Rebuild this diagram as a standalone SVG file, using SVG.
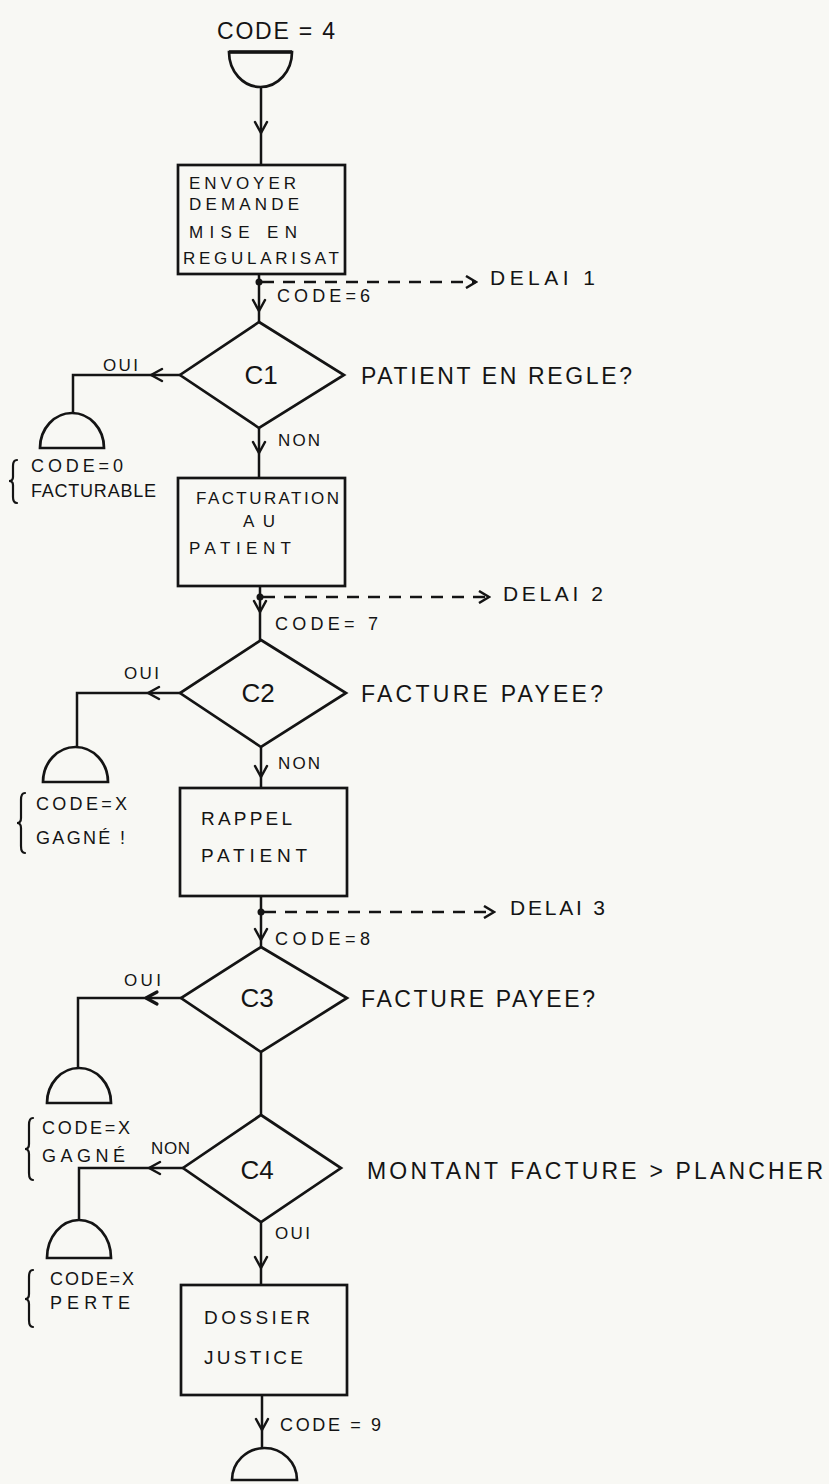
<svg xmlns="http://www.w3.org/2000/svg" xmlns:xlink="http://www.w3.org/1999/xlink" width="829" height="1484" viewBox="0 0 829 1484">
  <style>
    .shape { fill: none; stroke: #141414; stroke-width: 2.7; stroke-linejoin: miter; }
    .line { fill: none; stroke: #141414; stroke-width: 2.5; }
    .dash { fill: none; stroke: #141414; stroke-width: 2.5; stroke-dasharray: 12 9; }
    .ah { fill: none; stroke: #141414; stroke-width: 2.5; stroke-linecap: round; stroke-linejoin: round; }
    .brace { fill: none; stroke: #141414; stroke-width: 2.2; stroke-linecap: round; }
    text { font-family: "Liberation Sans", "DejaVu Sans", sans-serif; fill: #141414; }
    .tb { font-size: 17px; }
    .tm { font-size: 19px; }
    .ts { font-size: 18px; }
    .tl { font-size: 21px; }
    .tq { font-size: 23px; }
    .tc { font-size: 26px; }
  </style>
  <defs>
    <path id="av" d="M-6,-11 L0,0 L6,-11"/>
    <marker id="dhead" viewBox="0 0 14 14" refX="12" refY="7" markerWidth="14" markerHeight="14" markerUnits="userSpaceOnUse" orient="auto">
      <path d="M2,1 L12,7 L2,13" fill="none" stroke="#141414" stroke-width="2.5"/>
    </marker>
  </defs>
  <rect x="0" y="0" width="829" height="1484" fill="#f8f8f4"/>

  <g id="connectors">
    <path class="line" d="M261,87 V165"/>
    <path class="line" d="M259,274 V322"/>
    <path class="line" d="M180,375 H73 V413"/>
    <path class="line" d="M259,428 V478"/>
    <path class="line" d="M260,586 V640"/>
    <path class="line" d="M180,693 H77 V747"/>
    <path class="line" d="M261,747 V788"/>
    <path class="line" d="M261,896 V947"/>
    <path class="line" d="M181,998 H78 V1068"/>
    <path class="line" d="M261,1052 V1115"/>
    <path class="line" d="M183,1168 H79 V1220"/>
    <path class="line" d="M261,1222 V1285"/>
    <path class="line" d="M262,1395 V1448"/>
    <path class="dash" d="M262,282 H476" marker-end="url(#dhead)"/>
    <path class="dash" d="M263,597 H489" marker-end="url(#dhead)"/>
    <path class="dash" d="M264,912 H494" marker-end="url(#dhead)"/>
    <circle cx="259" cy="282" r="3.5" fill="#141414"/>
    <circle cx="260" cy="597" r="3.5" fill="#141414"/>
    <circle cx="261" cy="912" r="3.5" fill="#141414"/>
    <use href="#av" class="ah" transform="translate(261,133)"/>
    <use href="#av" class="ah" transform="translate(259,311)"/>
    <use href="#av" class="ah" transform="translate(259,453)"/>
    <use href="#av" class="ah" transform="translate(260,612)"/>
    <use href="#av" class="ah" transform="translate(261,777)"/>
    <use href="#av" class="ah" transform="translate(261,940)"/>
    <use href="#av" class="ah" transform="translate(261,1268)"/>
    <use href="#av" class="ah" transform="translate(262,1430)"/>
    <use href="#av" class="ah" transform="translate(151,375) rotate(90)"/>
    <use href="#av" class="ah" transform="translate(148,693) rotate(90)"/>
    <use href="#av" class="ah" transform="translate(146,998) rotate(90)" style="stroke-width:3.2"/>
    <use href="#av" class="ah" transform="translate(149,1168) rotate(90)"/>
    <text class="ts" x="277" y="302" textLength="93">CODE=6</text>
    <text class="tl" x="490" y="285" textLength="105">DELAI 1</text>
    <text class="tb" x="103" y="371" textLength="35">OUI</text>
    <text class="tb" x="278" y="446" textLength="42">NON</text>
    <text class="tl" x="503" y="601" textLength="100">DELAI 2</text>
    <text class="ts" x="275" y="630" textLength="103">CODE= 7</text>
    <text class="tb" x="124" y="679" textLength="35">OUI</text>
    <text class="tb" x="278" y="769" textLength="42">NON</text>
    <text class="tl" x="510" y="915" textLength="95">DELAI 3</text>
    <text class="ts" x="275" y="945" textLength="95">CODE=8</text>
    <text class="tb" x="124" y="986" textLength="37">OUI</text>
    <text class="tb" x="151" y="1154" textLength="39">NON</text>
    <text class="tb" x="275" y="1239" textLength="35">OUI</text>
    <text class="ts" x="280" y="1431" textLength="101">CODE = 9</text>
  </g>

  <g id="start">
    <path class="shape" d="M229,52 H292 A31.5,35 0 0 1 229,52 Z"/>
    <path class="line" d="M229,52 H292" style="stroke-width:3.5"/>
    <text class="tq" x="217" y="39" textLength="118">CODE = 4</text>
  </g>

  <g id="box1">
    <rect class="shape" x="178" y="165" width="167" height="109"/>
    <text class="tb" x="189" y="189" textLength="107">ENVOYER</text>
    <text class="tb" x="189" y="210" textLength="110">DEMANDE</text>
    <text class="tb" x="189" y="238" textLength="108">MISE EN</text>
    <text class="tb" x="183" y="264" textLength="156">REGULARISAT</text>
  </g>

  <g id="c1">
    <path class="shape" d="M259,322 L344,375 L259,428 L180,375 Z"/>
    <text class="tc" x="261" y="384" text-anchor="middle">C1</text>
    <text class="tq" x="361" y="384" textLength="271">PATIENT EN REGLE?</text>
  </g>

  <g id="end-c1">
    <path class="shape" d="M40,448 A32,35 0 0 1 104,448 Z"/>
    <path class="brace" d="M17,460 Q13,460 13,466 L13,477 Q13,481 9,481 Q13,481 13,485 L13,497 Q13,503 17,503"/>
    <text class="ts" x="31" y="472" textLength="92">CODE=0</text>
    <text class="ts" x="31" y="497" textLength="125">FACTURABLE</text>
  </g>

  <g id="box2">
    <rect class="shape" x="178" y="478" width="167" height="108"/>
    <text class="tb" x="196" y="504" textLength="143">FACTURATION</text>
    <text class="tb" x="243" y="527" textLength="32">AU</text>
    <text class="tb" x="189" y="554" textLength="102">PATIENT</text>
  </g>

  <g id="c2">
    <path class="shape" d="M261,640 L346,693 L261,747 L180,693 Z"/>
    <text class="tc" x="258" y="702" text-anchor="middle">C2</text>
    <text class="tq" x="361" y="702" textLength="242">FACTURE PAYEE?</text>
  </g>

  <g id="end-c2">
    <path class="shape" d="M43,782 A32.5,35 0 0 1 108,782 Z"/>
    <path class="brace" d="M25,793 Q21,793 21,800 L21,818 Q21,823 17,823 Q21,823 21,828 L21,846 Q21,853 25,853"/>
    <text class="ts" x="36" y="810" textLength="91">CODE=X</text>
    <text class="ts" x="36" y="844" textLength="89">GAGNÉ !</text>
  </g>

  <g id="box3">
    <rect class="shape" x="180" y="788" width="167" height="108"/>
    <text class="tm" x="201" y="825" textLength="91">RAPPEL</text>
    <text class="tm" x="201" y="862" textLength="106">PATIENT</text>
  </g>

  <g id="c3">
    <path class="shape" d="M261,947 L347,998 L261,1052 L181,998 Z"/>
    <text class="tc" x="257" y="1007" text-anchor="middle">C3</text>
    <text class="tq" x="361" y="1007" textLength="234">FACTURE PAYEE?</text>
  </g>

  <g id="end-c3">
    <path class="shape" d="M47,1103 A32,35 0 0 1 111,1103 Z"/>
    <path class="brace" d="M33,1118 Q29,1118 29,1125 L29,1144 Q29,1149 25,1149 Q29,1149 29,1154 L29,1173 Q29,1180 33,1180"/>
    <text class="ts" x="42" y="1134" textLength="88">CODE=X</text>
    <text class="ts" x="42" y="1162" textLength="83">GAGNÉ</text>
  </g>

  <g id="c4">
    <path class="shape" d="M261,1115 L341,1168 L261,1222 L183,1168 Z"/>
    <text class="tc" x="257" y="1179" text-anchor="middle">C4</text>
    <text class="tq" x="367" y="1179" textLength="456">MONTANT FACTURE &gt; PLANCHER</text>
  </g>

  <g id="end-c4">
    <path class="shape" d="M47,1258 A32,38 0 0 1 111,1258 Z"/>
    <path class="brace" d="M33,1270 Q29,1270 29,1277 L29,1294 Q29,1299 25,1299 Q29,1299 29,1304 L29,1320 Q29,1327 33,1327"/>
    <text class="ts" x="50" y="1285" textLength="84">CODE=X</text>
    <text class="ts" x="50" y="1309" textLength="80">PERTE</text>
  </g>

  <g id="box4">
    <rect class="shape" x="181" y="1285" width="166" height="110"/>
    <text class="tm" x="204" y="1324" textLength="106">DOSSIER</text>
    <text class="tm" x="204" y="1364" textLength="99">JUSTICE</text>
  </g>

  <g id="end-final">
    <path class="shape" d="M232,1480 A32.5,32 0 0 1 297,1480 Z"/>
  </g>
</svg>
